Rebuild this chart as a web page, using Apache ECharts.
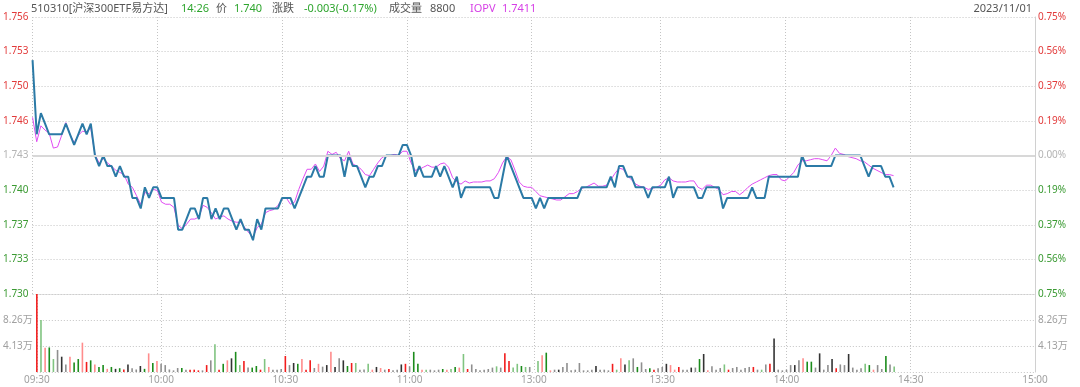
<!DOCTYPE html>
<html><head><meta charset="utf-8">
<script src="https://cdn.jsdelivr.net/npm/echarts@6/dist/echarts.min.js"></script>
<style>html,body{margin:0;padding:0;background:#fff}#c{width:1080px;height:387px}</style>
</head><body><div id="c"></div>
<script>
// ---------- data ----------
const prevClose = 1.743;
const headerTitle = '510310[沪深300ETF易方达]';
const headerTime = '14:26';
const headerPrice = '1.740';
const headerChange = '-0.003(-0.17%)';
const headerVolume = '8800';
const headerIopv = '1.7411';
const headerDate = '2023/11/01';

// one value per minute: 09:30..11:30, then 13:00..14:26
const prices = [
1.752,1.745,1.747,1.746,1.745,1.745,1.745,1.745,1.746,1.745,
1.744,1.745,1.746,1.745,1.746,1.743,1.742,1.743,1.742,1.742,
1.741,1.742,1.741,1.741,1.739,1.739,1.738,1.740,1.739,1.740,
1.740,1.739,1.739,1.739,1.739,1.736,1.736,1.737,1.738,1.738,
1.737,1.739,1.739,1.737,1.738,1.737,1.738,1.738,1.737,1.736,
1.737,1.736,1.736,1.735,1.737,1.736,1.738,1.738,1.738,1.738,
1.739,1.739,1.739,1.738,1.739,1.740,1.741,1.741,1.742,1.741,
1.741,1.743,1.743,1.743,1.743,1.741,1.743,1.742,1.742,1.741,
1.740,1.741,1.741,1.742,1.742,1.743,1.743,1.743,1.743,1.744,
1.744,1.743,1.741,1.742,1.741,1.741,1.741,1.742,1.741,1.742,
1.741,1.740,1.741,1.739,1.740,1.740,1.740,1.740,1.740,1.740,
1.740,1.739,1.739,1.741,1.743,1.742,1.741,1.740,1.739,1.739,
1.739,
1.738,1.739,1.738,1.739,1.739,1.739,1.739,1.739,1.739,1.739,
1.739,1.740,1.740,1.740,1.740,1.740,1.740,1.740,1.741,1.740,
1.742,1.742,1.741,1.741,1.740,1.740,1.740,1.739,1.740,1.740,
1.740,1.740,1.741,1.739,1.740,1.740,1.740,1.740,1.740,1.739,
1.739,1.740,1.740,1.740,1.740,1.738,1.739,1.739,1.739,1.739,
1.739,1.739,1.740,1.739,1.739,1.739,1.741,1.741,1.741,1.741,
1.741,1.741,1.741,1.741,1.743,1.742,1.742,1.742,1.742,1.742,
1.742,1.742,1.743,1.743,1.743,1.743,1.743,1.743,1.743,1.742,
1.741,1.742,1.742,1.742,1.741,1.741,1.740];

const iopv = [
1.7466,1.7443,1.7458,1.7454,1.7451,1.7437,1.7438,1.7449,1.7461,1.7450,
1.7442,1.7449,1.7453,1.7452,1.7456,1.7431,1.7423,1.7427,1.7423,1.7420,
1.7416,1.7414,1.7412,1.7403,1.7400,1.7392,1.7384,1.7395,1.7394,1.7398,
1.7397,1.7386,1.7384,1.7384,1.7381,1.7364,1.7361,1.7365,1.7370,1.7370,
1.7372,1.7383,1.7381,1.7376,1.7370,1.7372,1.7373,1.7370,1.7368,1.7367,
1.7367,1.7362,1.7357,1.7353,1.7362,1.7365,1.7376,1.7378,1.7379,1.7383,
1.7389,1.7390,1.7384,1.7386,1.7398,1.7408,1.7417,1.7417,1.7422,1.7415,
1.7420,1.7434,1.7431,1.7433,1.7427,1.7425,1.7434,1.7422,1.7420,1.7417,
1.7412,1.7411,1.7417,1.7423,1.7428,1.7430,1.7430,1.7431,1.7430,1.7434,
1.7434,1.7423,1.7416,1.7417,1.7419,1.7421,1.7419,1.7419,1.7422,1.7423,
1.7419,1.7409,1.7405,1.7403,1.7406,1.7404,1.7405,1.7405,1.7405,1.7406,
1.7406,1.7408,1.7414,1.7423,1.7429,1.7426,1.7416,1.7405,1.7401,1.7400,
1.7400,
1.7396,1.7392,1.7391,1.7390,1.7389,1.7388,1.7388,1.7391,1.7394,1.7394,
1.7396,1.7399,1.7400,1.7402,1.7404,1.7401,1.7401,1.7402,1.7407,1.7413,
1.7418,1.7417,1.7411,1.7407,1.7403,1.7401,1.7400,1.7398,1.7399,1.7400,
1.7402,1.7407,1.7409,1.7406,1.7405,1.7405,1.7405,1.7406,1.7406,1.7400,
1.7398,1.7402,1.7402,1.7400,1.7398,1.7393,1.7394,1.7396,1.7396,1.7393,
1.7396,1.7400,1.7403,1.7405,1.7407,1.7409,1.7411,1.7412,1.7412,1.7407,
1.7406,1.7410,1.7414,1.7421,1.7425,1.7425,1.7426,1.7427,1.7427,1.7426,
1.7425,1.7430,1.7437,1.7432,1.7431,1.7429,1.7428,1.7427,1.7425,1.7424,
1.7421,1.7418,1.7416,1.7414,1.7412,1.7412,1.7411];

// volume per minute, in 万
const volumes = [
12.38,8.25,3.86,3.9,2.06,3.5,2.43,1.2,2.43,1.5,
2.06,4.66,1.6,1.85,1.2,0.8,1.1,0.5,0.8,0.5,
0.6,0.4,1.2,0.6,0.4,0.95,0.5,2.96,1.43,1.75,
1.3,1.1,0.4,0.26,0.63,0.63,0.37,0.37,0.37,0.26,
0.26,1.1,1.85,4.4,0.37,1.3,1.85,2.17,3.2,1.1,
1.75,0.7,0.7,0.95,0.37,2.06,0.8,0.37,0.37,0.48,
2.54,1.1,1.43,1.3,2.06,0.37,1.85,0.63,1.3,0.85,
1.1,3.2,0.8,2.17,1.85,0.95,1.43,1.43,0.37,0.4,
1.3,0.37,0.8,0.63,0.37,0.48,0.26,0.37,1.2,1.3,
0.9,3.2,1.3,0.37,0.37,0.37,0.26,0.37,0.48,0.37,
0.48,0.8,0.7,2.86,0.48,1.2,0.48,0.26,0.37,0.48,
0.7,0.9,0.7,2.96,1.75,0.7,1.3,0.95,0.8,0.8,
0,
1.75,2.65,3.07,0.26,0.37,0.37,0.8,1.43,0.26,0.37,
1.43,0.26,0.26,0.37,0.95,0.37,0.37,0.26,1.3,0.37,
2.17,1.2,1.85,2.17,0.8,1.53,0.48,0.58,0.37,0.58,
0.8,1.3,1.1,0.37,0.8,0.37,0.37,0.7,0.7,2.06,
2.86,0.26,0.9,0.37,0.63,1.2,0.37,0.63,0.8,0.37,
0.63,0.8,0.8,0.37,0.37,1.2,1.3,5.34,0.37,0.26,
0.37,1.1,1.1,1.85,2.17,1.64,1.64,0.7,2.96,0.37,
1.1,2.06,0.58,1.2,1.1,2.86,0.7,0.37,0.58,1.3,
1.1,0.37,1.1,0.48,2.54,1.2,0.88];

// bar class per minute: R/r up (dark/light), G/g down, K/k flat
const volClass = (
"RgrGgkKkrG"+"GrRGrGGrGK"+"GRKkkKGrGr"+"kkkkkGkRRR"+"kRkgRGrKGg"+
"RkGGRgrkkk"+"RkKGrRRkrk"+"KrKkKGRgkk"+"grKrkRkkKR"+"kGGrgkkkGr"+
"gGrgRkkkkk"+"kgkRRggGgk"+"k"+
"grGrkKkkkk"+"kkkkKkkkRg"+"rKgkGkkGRk"+
"kKrrRkkKkG"+"KrkkkgRkkk"+"kkRkgkRKkk"+"kkKkrGGkKk"+"kKRkkKkkkg"+
"GrkkGkg").split('');

const leftPriceLabels = ['1.756','1.753','1.750','1.746','1.743','1.740','1.737','1.733','1.730'];
const rightPctLabels = ['0.75%','0.56%','0.37%','0.19%','0.00%','0.19%','0.37%','0.56%','0.75%'];
const volLabels = ['', '4.13万', '8.26万', ''];
const timeLabels = ['09:30','10:00','10:30','11:00','13:00','13:30','14:00','14:30','15:00'];
const timeTickIdx = [0, 30, 60, 90, 120, 151, 181, 211, 241];

// categories: 09:30..11:30, 13:00..15:00
const pad = n => (n < 10 ? '0' : '') + n;
const times = [];
for (let m = 570; m <= 690; m++) times.push(pad(Math.floor(m/60)) + ':' + pad(m%60));
for (let m = 780; m <= 900; m++) times.push(pad(Math.floor(m/60)) + ':' + pad(m%60));

// ---------- chart ----------
const FONT = '"Noto Sans", "Noto Sans CJK SC", sans-serif';
const RED = '#e23b3b', GREEN = '#3a9a32', GRAY = '#b4b4b4';
const barColors = {R:'#f21d1d', r:'#ff8c8c', G:'#1c8c1c', g:'#80c480', K:'#333333', k:'#8f8f8f'};
const toPct = p => (p - prevClose) / prevClose * 100;
const pctIdx = v => Math.round((Number(v) + 0.75) / 0.1875);
const pctColor = v => { const n = Number(v); return n > 1e-6 ? RED : (n < -1e-6 ? GREEN : GRAY); };
const dotted = {type: [1, 2], color: '#c4c4c4', width: 1};
const isTick = i => timeTickIdx.indexOf(i) >= 0;

const chart = echarts.init(document.getElementById('c'), null, {renderer: 'canvas'});

const hdr = (text, x, color) => ({
  type: 'text', left: x, top: 3,
  style: {text: text, fill: color, font: '11px ' + FONT}
});

chart.setOption({
  animation: false,
  backgroundColor: '#ffffff',
  grid: [
    {left: 30, right: 45, top: 17, height: 277},
    {left: 30, right: 45, top: 294, height: 78}
  ],
  xAxis: [
    {type: 'category', gridIndex: 0, data: times, boundaryGap: false,
     axisLine: {show: false}, axisTick: {show: false}, axisLabel: {show: false},
     splitLine: {show: true, interval: (i) => isTick(i), lineStyle: dotted}},
    {type: 'category', gridIndex: 1, data: times, boundaryGap: false,
     axisLine: {show: false}, axisTick: {show: false},
     axisLabel: {show: true, interval: (i) => isTick(i), showMinLabel: true, showMaxLabel: true,
       formatter: (v, i) => timeLabels[timeTickIdx.indexOf(i)] || '', color: '#a0a0a0',
       fontSize: 10, fontFamily: FONT, margin: 3},
     splitLine: {show: true, interval: (i) => isTick(i), lineStyle: dotted}}
  ],
  yAxis: [
    {type: 'value', gridIndex: 0, position: 'left', min: -0.75, max: 0.75, interval: 0.1875,
     axisLine: {show: false}, axisTick: {show: false},
     splitLine: {show: true, lineStyle: dotted},
     axisLabel: {margin: 4, fontSize: 10, fontFamily: FONT, showMinLabel: true, showMaxLabel: true,
       formatter: v => leftPriceLabels[8 - pctIdx(v)], color: v => pctColor(v)}},
    {type: 'value', gridIndex: 0, position: 'right', min: -0.75, max: 0.75, interval: 0.1875,
     axisLine: {show: true, lineStyle: {color: '#d0d0d0', width: 1}}, axisTick: {show: false},
     splitLine: {show: false},
     axisLabel: {margin: 3, fontSize: 10, fontFamily: FONT, showMinLabel: true, showMaxLabel: true,
       formatter: v => rightPctLabels[8 - pctIdx(v)], color: v => pctColor(v)}},
    {type: 'value', gridIndex: 1, position: 'left', min: 0, max: 12.39, interval: 4.13,
     axisLine: {show: false}, axisTick: {show: false},
     splitLine: {show: true, lineStyle: dotted},
     axisLabel: {margin: 4, fontSize: 10, fontFamily: FONT, color: '#a0a0a0',
       formatter: v => volLabels[Math.round(v / 4.13)] || ''}},
    {type: 'value', gridIndex: 1, position: 'right', min: 0, max: 12.39, interval: 4.13,
     axisLine: {show: true, lineStyle: {color: '#d0d0d0', width: 1}}, axisTick: {show: false},
     splitLine: {show: false},
     axisLabel: {margin: 3, fontSize: 10, fontFamily: FONT, color: '#a0a0a0',
       formatter: v => volLabels[Math.round(v / 4.13)] || ''}}
  ],
  series: [
    {type: 'line', xAxisIndex: 0, yAxisIndex: 0, data: [], z: 1, silent: true,
     markLine: {silent: true, symbol: ['none', 'none'], label: {show: false},
       lineStyle: {color: '#d8d8d8', width: 2, type: 'solid'}, data: [{yAxis: 0}]}},
    {name: 'IOPV', type: 'line', xAxisIndex: 0, yAxisIndex: 0, z: 2,
     data: iopv.map(toPct), showSymbol: false, symbol: 'none',
     lineStyle: {color: '#e04cf2', width: 1}},
    {name: '价', type: 'line', xAxisIndex: 0, yAxisIndex: 0, z: 3,
     data: prices.map(toPct), showSymbol: false, symbol: 'none',
     lineStyle: {color: '#2b7aa6', width: 2}},
    {name: '成交量', type: 'bar', xAxisIndex: 1, yAxisIndex: 2, barWidth: 1.6,
     data: volumes,
     itemStyle: {color: p => barColors[volClass[p.dataIndex]] || '#8f8f8f'}}
  ],
  graphic: [
    hdr(headerTitle, 31, '#555555'),
    hdr(headerTime, 181, '#2ea52e'),
    hdr('价', 216, '#555555'),
    hdr(headerPrice, 234, '#2ea52e'),
    hdr('涨跌', 272, '#555555'),
    hdr(headerChange, 304, '#2ea52e'),
    hdr('成交量', 389, '#555555'),
    hdr(headerVolume, 430, '#555555'),
    hdr('IOPV', 470, '#d63fe6'),
    hdr(headerIopv, 502, '#d63fe6'),
    {type: 'text', right: 48, top: 3, style: {text: headerDate, fill: '#555555', font: '11px ' + FONT}}
  ]
});
</script>
</body></html>
